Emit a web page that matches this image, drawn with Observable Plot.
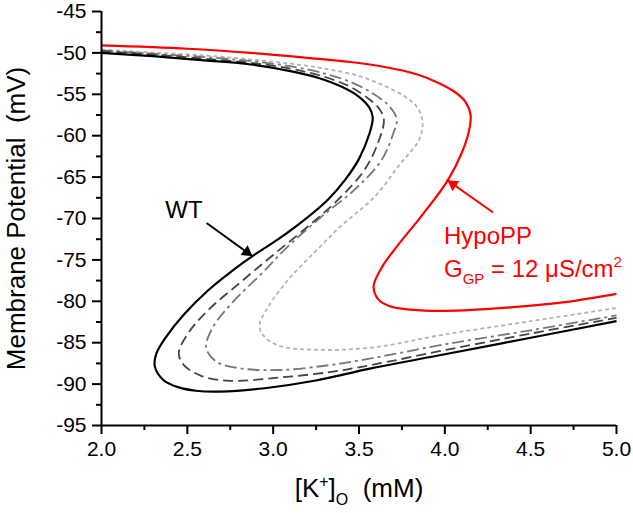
<!DOCTYPE html>
<html><head><meta charset="utf-8">
<script src="https://cdn.jsdelivr.net/npm/d3@7"></script>
<script src="https://cdn.jsdelivr.net/npm/@observablehq/plot@0.6"></script>
<style>
body{margin:0;background:#fff}
svg text{white-space:pre}
</style>
</head><body><div id="chart"></div>
<script>
// [K+]o (mM) and membrane potential (mV) along each steady-state curve
const wtK = [2.00,2.30,2.60,2.87,3.10,3.26,3.40,3.50,3.56,3.58,3.56,3.50,3.42,3.32,3.18,3.03,2.89,2.75,2.62,2.48,2.38,2.32,2.31,2.36,2.45,2.55,2.69,2.95,3.24,3.57,4.00,4.50,5.00];
const wtV = [-50.0,-50.4,-50.9,-51.4,-52.2,-53.0,-54.1,-55.3,-56.6,-57.8,-59.8,-62.8,-65.3,-67.7,-70.2,-72.5,-74.4,-76.5,-78.7,-81.6,-84.2,-86.3,-87.8,-89.5,-90.4,-90.8,-90.9,-90.5,-89.6,-88.1,-86.4,-84.4,-82.4];

const dashK = [2.00,2.30,2.60,2.87,3.10,3.30,3.45,3.56,3.62,3.645,3.61,3.53,3.38,3.20,3.00,2.81,2.62,2.50,2.45,2.48,2.58,2.75,3.04,3.33,3.57,4.00,4.50,5.00];
const dashV = [-49.8,-50.2,-50.7,-51.2,-51.9,-52.9,-54.1,-55.6,-56.8,-58.1,-60.9,-64.2,-67.7,-71.0,-74.4,-77.7,-81.1,-84.0,-86.3,-87.7,-89.0,-89.6,-89.2,-88.55,-87.7,-85.9,-83.9,-82.0];

const dashDotK = [2.00,2.30,2.60,2.87,3.10,3.30,3.45,3.58,3.67,3.72,3.70,3.63,3.47,3.28,3.07,2.94,2.76,2.65,2.61,2.67,2.81,3.04,3.33,3.57,4.00,4.50,5.00];
const dashDotV = [-49.7,-50.1,-50.5,-51.0,-51.6,-52.5,-53.5,-54.9,-56.3,-58.0,-59.7,-63.0,-66.6,-69.8,-73.7,-76.5,-80.2,-83.1,-85.6,-87.3,-88.1,-88.3,-87.7,-86.9,-85.2,-83.5,-81.7];

const dotK = [2.00,2.30,2.60,2.87,3.10,3.30,3.50,3.65,3.77,3.84,3.87,3.85,3.74,3.59,3.39,3.25,3.10,2.97,2.92,2.95,3.04,3.24,3.57,4.00,4.50,5.00];
const dotV = [-49.6,-49.95,-50.3,-50.8,-51.3,-51.9,-52.8,-54.0,-55.3,-56.6,-58.3,-60.5,-63.4,-67.4,-71.0,-73.9,-77.1,-80.7,-83.0,-84.3,-85.4,-85.85,-85.6,-84.0,-82.4,-80.8];

const hypoK = [2.00,2.50,2.87,3.20,3.45,3.65,3.84,3.95,4.05,4.12,4.15,4.14,4.10,4.02,3.86,3.72,3.63,3.585,3.61,3.68,3.80,4.00,4.40,4.70,5.00];
const hypoV = [-49.1,-49.5,-50.0,-50.6,-51.1,-51.7,-52.6,-53.5,-54.6,-55.9,-57.5,-59.5,-62.0,-65.3,-69.8,-73.4,-76.0,-78.2,-79.7,-80.6,-81.0,-81.15,-80.7,-80.1,-79.1];

const xTicks = [2.0,2.5,3.0,3.5,4.0,4.5,5.0];
const xMinor = [2.25,2.75,3.25,3.75,4.25,4.75];
const yTicks = [-95,-90,-85,-80,-75,-70,-65,-60,-55,-50,-45];
const yMinor = [-92.5,-87.5,-82.5,-77.5,-72.5,-67.5,-62.5,-57.5,-52.5,-47.5];

const series = [
  {name:"dotted", k:dotK, v:dotV, stroke:"#b3b3b3", dash:"4,3", width:1.8},
  {name:"dashdot", k:dashDotK, v:dashDotV, stroke:"#777777", dash:"12,4,3,4", width:1.8},
  {name:"dashed", k:dashK, v:dashV, stroke:"#444444", dash:"10,5", width:1.8},
  {name:"WT", k:wtK, v:wtV, stroke:"#000000", dash:null, width:2.2},
  {name:"HypoPP", k:hypoK, v:hypoV, stroke:"#ff0000", dash:null, width:2.2}
];

const lineMarks = series.map(s => {
  const rows = s.k.map((k,i) => ({k, v: s.v[i]}));
  return Plot.line(rows, {x:"k", y:"v", stroke:s.stroke, strokeWidth:s.width,
    strokeDasharray:s.dash, curve:"catmull-rom", strokeLinecap:"butt"});
});

// annotation arrows (tail -> tip)
const wtArrow = [{x1:2.616, y1:-70.61, x2:2.880, y2:-74.56}];
const hypoArrow = [{x1:4.277, y1:-69.21, x2:4.0146, y2:-65.37}];

const font = "'Liberation Sans', Arial, Helvetica, sans-serif";

const plot = Plot.plot({
  width: 633, height: 513,
  marginLeft: 101, marginRight: 17, marginTop: 11, marginBottom: 88,
  style: {fontFamily: font, background:"#fff", color:"#000"},
  x: {domain:[2,5]},
  y: {domain:[-95,-45]},
  marks: [
    ...lineMarks,
    Plot.axisX({ticks:xTicks, tickSize:9, tickPadding:7, tickFormat:d=>d.toFixed(1), fontSize:21, label:null, strokeWidth:2, stroke:"#000"}),
    Plot.axisX({ticks:xMinor, tickSize:5, tickFormat:()=>"", label:null, strokeWidth:2, stroke:"#000"}),
    Plot.axisY({ticks:yTicks, tickSize:9, tickPadding:6, tickFormat:d=>String(d), fontSize:21, label:null, strokeWidth:2, stroke:"#000"}),
    Plot.axisY({ticks:yMinor, tickSize:5, tickFormat:()=>"", label:null, strokeWidth:2, stroke:"#000"}),
    Plot.ruleX([2], {stroke:"#000", strokeWidth:2}),
    Plot.ruleY([-95], {stroke:"#000", strokeWidth:2}),
    Plot.text(["Membrane Potential  (mV)"], {frameAnchor:"left", textAnchor:"middle", rotate:-90, dx:-85, fontSize:26, fill:"#000"}),
    Plot.text(["XLABEL"], {frameAnchor:"bottom", textAnchor:"middle", dy:71, fontSize:26, fill:"#000"}),
    Plot.arrow(wtArrow, {x1:"x1", y1:"y1", x2:"x2", y2:"y2", headLength:0, stroke:"#000", strokeWidth:2}),
    Plot.dot([wtArrow[0]], {x:"x2", y:"y2", symbol:"triangle", r:4.5, fill:"#000", stroke:null, rotate:126, dx:-5.66, dy:-4.12}),
    Plot.arrow(hypoArrow, {x1:"x1", y1:"y1", x2:"x2", y2:"y2", headLength:0, stroke:"#ff0000", strokeWidth:2}),
    Plot.dot([hypoArrow[0]], {x:"x2", y:"y2", symbol:"triangle", r:4.5, fill:"#ff0000", stroke:null, rotate:-54.85, dx:5.73, dy:4.03}),
    Plot.text([{x:2.48, y:-69.0}], {x:"x", y:"y", text:()=>"WT", fontSize:24, fill:"#000", textAnchor:"middle"}),
    Plot.text([{x:3.995, y:-72.1}], {x:"x", y:"y", text:()=>"HypoPP", fontSize:24, fill:"#ff0000", textAnchor:"start"}),
    Plot.text([{x:3.995, y:-76.14}], {x:"x", y:"y", text:()=>"GLABEL", fontSize:24, fill:"#ff0000", textAnchor:"start"})
  ]
});

document.getElementById("chart").appendChild(plot);

function rich(el, parts) {
  const t = d3.select(el);
  t.text(null);
  parts.forEach(p => {
    const ts = t.append("tspan").text(p.t);
    if (p.fs) ts.attr("font-size", p.fs);
    if (p.dy) ts.attr("dy", p.dy);
  });
}
d3.select(plot).selectAll("text").each(function() {
  const s = this.textContent;
  if (s === "XLABEL") {
    rich(this, [{t:"[K"},{t:"+", fs:16, dy:-10},{t:"]", dy:10},{t:"O", fs:16, dy:8},{t:"  (mM)", dy:-8}]);
  } else if (s === "GLABEL") {
    rich(this, [{t:"G"},{t:"GP", fs:15, dy:7},{t:" = 12 \u03BCS/cm", dy:-7},{t:"2", fs:15, dy:-10}]);
  }
});
</script>
</body></html>
